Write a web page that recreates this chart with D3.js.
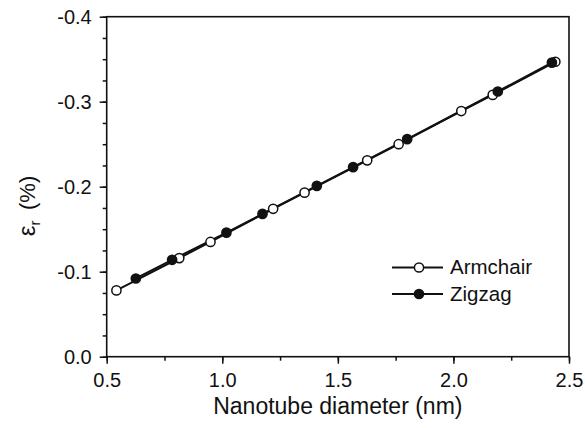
<!DOCTYPE html>
<html>
<head>
<meta charset="utf-8">
<script src="https://cdn.jsdelivr.net/npm/d3@7"></script>
<style>
  body { margin: 0; background: #fff; }
  text { font-family: "Liberation Sans", Arial, sans-serif; fill: #111; }
</style>
</head>
<body>
<svg id="svg" width="585" height="428"></svg>
<script>
// data
var armchairD = [0.542, 0.814, 0.949, 1.220, 1.356, 1.627, 1.763, 2.034, 2.170, 2.441];
var armchairE = [-0.078, -0.116, -0.135, -0.174, -0.193, -0.231, -0.250, -0.289, -0.308, -0.347];
var zigzagD = [0.626, 0.783, 1.018, 1.174, 1.409, 1.566, 1.800, 2.192, 2.426];
var zigzagE = [-0.092, -0.114, -0.146, -0.168, -0.201, -0.223, -0.256, -0.312, -0.346];
var xTicks = [0.5, 1.0, 1.5, 2.0, 2.5];
var yTicks = [0.0, -0.1, -0.2, -0.3, -0.4];

var svg = d3.select("#svg");
var L = 106.7, R = 569, T = 16.7, B = 356.7;

var x = d3.scaleLinear().domain([0.5, 2.5]).range([L, R]);
var y = d3.scaleLinear().domain([0, -0.4]).range([B, T]);

// frame
svg.append("rect")
  .attr("x", L).attr("y", T)
  .attr("width", R - L).attr("height", B - T)
  .attr("fill", "none").attr("stroke", "#111").attr("stroke-width", 1.6);

// plain hyphen, not unicode minus
var fmt = d => (Math.abs(d) < 1e-9 ? 0 : d).toFixed(1);

// x axis
var xMinor = d3.range(0.5, 2.501, 0.25);
var gx = svg.append("g").attr("transform", "translate(0," + B + ")");
gx.call(d3.axisBottom(x).tickValues(xMinor).tickSize(4).tickFormat(""))
  .call(g => g.select(".domain").remove());
gx.append("g")
  .call(d3.axisBottom(x).tickValues(xTicks).tickSize(7).tickPadding(9).tickFormat(fmt))
  .call(g => g.select(".domain").remove());
gx.selectAll("line").attr("stroke", "#111").attr("stroke-width", 1.5);
gx.selectAll("text").attr("font-size", 20).attr("fill", "#111")
  .attr("font-family", "Liberation Sans, Arial, sans-serif");

// y axis
var yMinor = d3.range(0, 0.4001, 0.025).map(v => -v);
var gy = svg.append("g").attr("transform", "translate(" + L + ",0)");
gy.call(d3.axisLeft(y).tickValues(yMinor).tickSize(4).tickFormat(""))
  .call(g => g.select(".domain").remove());
gy.append("g")
  .call(d3.axisLeft(y).tickValues(yTicks).tickSize(7).tickPadding(8).tickFormat(fmt))
  .call(g => g.select(".domain").remove());
gy.selectAll("line").attr("stroke", "#111").attr("stroke-width", 1.5);
gy.selectAll("text").attr("font-size", 20).attr("fill", "#111")
  .attr("font-family", "Liberation Sans, Arial, sans-serif");

// axis titles
svg.append("text")
  .attr("x", (L + R) / 2).attr("y", 414)
  .attr("text-anchor", "middle").attr("font-size", 23)
  .text("Nanotube diameter (nm)");

var yt = svg.append("text")
  .attr("transform", "translate(35,206) rotate(-90)")
  .attr("text-anchor", "middle").attr("font-size", 22);
yt.append("tspan").attr("font-size", 24).text("\u03b5");
yt.append("tspan").attr("font-size", 15).attr("dy", 5).text("r");
yt.append("tspan").attr("dy", -5).text("\u2009 (%)");

// series
var line = d3.line().x(d => x(d[0])).y(d => y(d[1]));
var series = [
  { name: "Armchair", pts: d3.zip(armchairD, armchairE), fill: "#fff" },
  { name: "Zigzag", pts: d3.zip(zigzagD, zigzagE), fill: "#111" }
];

series.forEach(s => {
  svg.append("path")
    .attr("d", line(s.pts))
    .attr("fill", "none").attr("stroke", "#111").attr("stroke-width", 2);
});
series.forEach(s => {
  svg.append("g").selectAll("circle")
    .data(s.pts).enter().append("circle")
    .attr("cx", d => x(d[0])).attr("cy", d => y(d[1]))
    .attr("r", 4.6)
    .attr("fill", s.fill).attr("stroke", "#111").attr("stroke-width", 1.5);
});

// legend
var leg = svg.append("g");
series.forEach((s, i) => {
  var ly = 267.5 + i * 26.5;
  leg.append("line")
    .attr("x1", 392).attr("x2", 443).attr("y1", ly).attr("y2", ly)
    .attr("stroke", "#111").attr("stroke-width", 1.8);
  leg.append("circle")
    .attr("cx", 419).attr("cy", ly).attr("r", 4.6)
    .attr("fill", s.fill).attr("stroke", "#111").attr("stroke-width", 1.5);
  leg.append("text")
    .attr("x", 450).attr("y", ly + 6.5)
    .attr("font-size", 20.5)
    .text(s.name);
});
</script>
</body>
</html>
